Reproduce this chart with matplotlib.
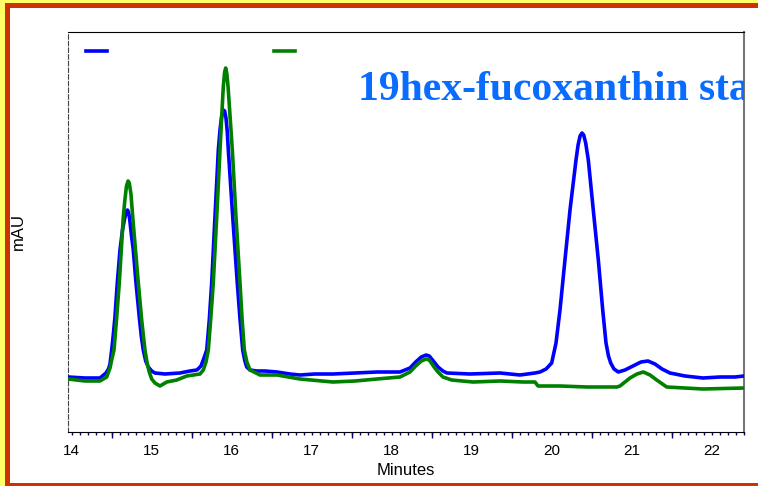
import matplotlib
matplotlib.use("Agg")
import matplotlib.pyplot as plt
from matplotlib.lines import Line2D
from matplotlib.patches import Rectangle
from matplotlib.ticker import MultipleLocator, FixedLocator

# ---- data (minutes, mAU) ----
blue_t = [13.954, 14.166, 14.354, 14.429, 14.460, 14.479, 14.500, 14.520, 14.541, 14.570,
          14.604, 14.635, 14.666, 14.683, 14.697, 14.710, 14.725, 14.745, 14.770, 14.804,
          14.845, 14.870, 14.895, 14.925, 14.958, 15.000, 15.041, 15.166, 15.354, 15.479,
          15.566, 15.616, 15.654, 15.688, 15.720, 15.750, 15.791, 15.833, 15.855, 15.875,
          15.895, 15.912, 15.929, 15.945, 15.958, 16.013, 16.070, 16.105, 16.138, 16.165,
          16.188, 16.229, 16.313, 16.416, 16.566, 16.729, 16.854, 17.041, 17.266, 17.541,
          17.816, 18.104, 18.229, 18.300, 18.370, 18.430, 18.470, 18.530, 18.579, 18.640,
          18.691, 18.979, 19.354, 19.604, 19.791, 19.854, 19.930, 20.000, 20.054, 20.104,
          20.166, 20.229, 20.304, 20.330, 20.355, 20.379, 20.400, 20.425, 20.458, 20.520,
          20.583, 20.638, 20.679, 20.710, 20.738, 20.779, 20.833, 20.916, 21.016, 21.116,
          21.204, 21.291, 21.379, 21.479, 21.666, 21.891, 22.104, 22.291, 22.404]
blue_v = [55, 54, 54, 59, 63, 68, 82, 97, 115, 149,
          182, 202, 215, 220, 222, 220, 213, 198, 182, 149,
          115, 96, 82, 71, 65, 61, 59, 58, 59, 61,
          62, 66, 74, 82, 112, 149, 215, 282, 303, 316,
          322, 321, 314, 300, 282, 215, 149, 112, 82, 71,
          65, 62, 61, 61, 60, 58, 57, 58, 58, 59,
          60, 60, 64, 70, 75, 77, 76, 70, 65, 61,
          59, 58, 59, 57, 59, 60, 63, 69, 89, 122,
          172, 222, 272, 287, 296, 299, 297, 289, 272, 222,
          172, 122, 89, 76, 69, 63, 60, 62, 66, 70,
          71, 68, 63, 59, 56, 54, 55, 55, 56]

green_t = [13.954, 14.166, 14.354, 14.438, 14.479, 14.500, 14.529, 14.560, 14.595, 14.645,
           14.665, 14.685, 14.705, 14.720, 14.741, 14.763, 14.800, 14.833, 14.875, 14.916,
           14.945, 14.970, 15.000, 15.041, 15.104, 15.188, 15.313, 15.438, 15.604, 15.645,
           15.679, 15.708, 15.740, 15.770, 15.813, 15.854, 15.875, 15.895, 15.912, 15.925,
           15.940, 15.955, 15.966, 16.008, 16.054, 16.104, 16.130, 16.158, 16.190, 16.229,
           16.354, 16.566, 16.854, 17.266, 17.541, 17.816, 18.104, 18.229, 18.300, 18.370,
           18.430, 18.470, 18.530, 18.579, 18.641, 18.750, 19.016, 19.354, 19.641, 19.791,
           19.829, 20.104, 20.441, 20.816, 20.854, 20.979, 21.066, 21.145, 21.229, 21.313,
           21.438, 21.891, 22.404]
green_v = [53, 51, 51, 55, 64, 72, 82, 112, 149, 215,
           232, 246, 251, 249, 238, 215, 180, 149, 112, 82,
           68, 60, 53, 49, 46, 50, 52, 56, 58, 62,
           70, 82, 115, 149, 215, 282, 315, 345, 360, 364,
           358, 345, 332, 282, 215, 149, 113, 82, 70, 62,
           57, 57, 53, 50, 51, 53, 55, 60, 66, 71,
           73, 72, 65, 60, 55, 52, 50, 51, 50, 50,
           46, 46, 45, 45, 46, 54, 58, 60, 57, 52,
           45, 43, 44]

title_text = "19hex-fucoxanthin standard"
x_label = "Minutes"
y_label = "mAU"
x_range = (13.954, 22.404)
y_range = (0, 400)
half_ticks = [14.5, 15.5, 16.5, 17.5, 18.5, 19.5, 20.5, 21.5]

W, H = 758, 486
fig = plt.figure(figsize=(W / 100, H / 100), dpi=100, facecolor="#ffff66")
fig.patches.append(Rectangle((5 / W, 0), 1, 1 - 3 / H, transform=fig.transFigure,
                             facecolor="#cc3300", edgecolor="none", zorder=-2))
fig.patches.append(Rectangle((10 / W, 3 / H), 1, 1 - 11 / H, transform=fig.transFigure,
                             facecolor="white", edgecolor="none", zorder=-1))

ax = fig.add_axes([68 / W, 1 - 432 / H, 676 / W, 400 / H])
ax.set_facecolor("white")

ax.plot(blue_t, blue_v, color="#0000ff", lw=2.6, solid_joinstyle="round", zorder=3)
ax.plot(green_t, green_v, color="#007f00", lw=2.6, solid_joinstyle="round", zorder=3)

ax.set_xlim(*x_range)
ax.set_ylim(*y_range)

ax.xaxis.set_major_locator(MultipleLocator(1))
ax.xaxis.set_minor_locator(MultipleLocator(0.1))
ax.tick_params(axis="x", which="both", direction="out", color="#000080", length=2.5,
               width=1, labelsize=11, pad=6, labelcolor="black")
ax.set_yticks([])
for lab in ax.get_xticklabels():
    lab.set_fontfamily("Liberation Sans")

# longer ticks at the half-minute marks via a secondary axis
sec = ax.secondary_xaxis("bottom")
sec.xaxis.set_major_locator(FixedLocator(half_ticks))
sec.tick_params(axis="x", direction="out", color="#000080", length=4.5, width=1,
                labelbottom=False)
sec.spines["bottom"].set_visible(False)

ax.spines["left"].set_linestyle((0, (4, 2)))
ax.spines["left"].set_color("#444444")
ax.spines["right"].set_color("#777777")
ax.spines["right"].set_linewidth(1.5)
ax.spines["top"].set_color("black")
ax.spines["bottom"].set_color("black")

ax.set_xlabel(x_label, fontsize=12, family="Liberation Sans", labelpad=3.5)
ax.set_ylabel(y_label, fontsize=12, family="Liberation Sans", labelpad=30)

ax.text(0.429, 0.83, title_text, transform=ax.transAxes, fontsize=30,
        fontweight="bold", family="Liberation Serif", color="#0a6cff",
        va="baseline", ha="left", clip_on=True, zorder=4)

handles = [Line2D([], [], color="#0000ff", lw=2.6), Line2D([], [], color="#007f00", lw=2.6)]
ax.legend(handles, ["", ""], ncol=2, loc="upper left", bbox_to_anchor=(18 / 676, 0.9675),
          frameon=False, handlelength=1.51, handletextpad=0.8, columnspacing=11.22,
          borderpad=0, borderaxespad=0, fontsize=10)

fig.savefig("out.png", dpi=100, facecolor=fig.get_facecolor())
